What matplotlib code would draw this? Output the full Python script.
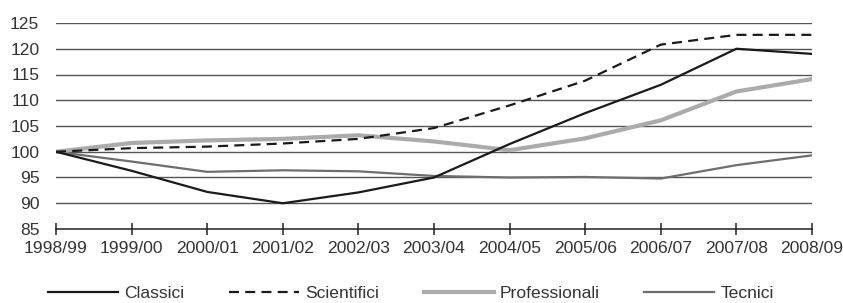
import matplotlib
matplotlib.use("Agg")
import matplotlib.pyplot as plt
from matplotlib import font_manager

# school-year labels on the x axis
years = ["1998/99", "1999/00", "2000/01", "2001/02", "2002/03", "2003/04",
         "2004/05", "2005/06", "2006/07", "2007/08", "2008/09"]

# index values, 1998/99 = 100
classici = [100, 96.3, 92.2, 90.0, 92.1, 95.0, 101.5, 107.5, 113.0, 120.0, 119.0]
scientifici = [100, 100.7, 101.0, 101.6, 102.5, 104.6, 109.0, 113.8, 120.8, 122.7, 122.7]
professionali = [100, 101.7, 102.2, 102.5, 103.2, 102.0, 100.3, 102.6, 106.1, 111.7, 114.1]
tecnici = [100, 98.1, 96.1, 96.4, 96.2, 95.3, 95.0, 95.1, 94.8, 97.4, 99.3]

yticks = [85, 90, 95, 100, 105, 110, 115, 120, 125]

names = {f.name for f in font_manager.fontManager.ttflist}
NARROW = "Liberation Sans Narrow" in names
FONT = "Liberation Sans Narrow" if NARROW else "Liberation Sans"
plt.rcParams["font.family"] = [FONT, "DejaVu Sans"]
FS = 14.5 if NARROW else 12.6
TXT = "#333333"

fig = plt.figure(figsize=(8.43, 3.03), dpi=100)
ax = fig.add_axes([56 / 843, 74 / 303, 756 / 843, 206 / 303])

x = list(range(len(years)))

# horizontal grid (no grid at 85, that's the axis)
for v in yticks[1:]:
    ax.axhline(v, color="#555555", linewidth=1.0, zorder=1)

ax.plot(x, tecnici, color="#6e6e6e", linewidth=1.6, zorder=3, label="Tecnici")
ax.plot(x, professionali, color="#ababab", linewidth=3.0, zorder=3,
        label="Professionali")
ax.plot(x, scientifici, color="#1a1a1a", linewidth=1.6, dashes=(4.5, 2.8),
        zorder=4, label="Scientifici")
ax.plot(x, classici, color="#1a1a1a", linewidth=1.6, zorder=5, label="Classici")

ax.set_xlim(0, len(years) - 1)
ax.set_ylim(85, 125)
ax.set_yticks(yticks)
ax.set_xticks(x)
ax.set_xticklabels(years)

for s in ["top", "right", "left"]:
    ax.spines[s].set_visible(False)
ax.spines["bottom"].set_color("#222222")
ax.spines["bottom"].set_linewidth(1.1)
ax.tick_params(axis="y", length=0, pad=12, labelsize=FS, labelcolor=TXT)
ax.tick_params(axis="x", direction="inout", length=9, width=1.1,
               color="#222222", pad=4, labelsize=FS, labelcolor=TXT)

# legend order as in the source
h, l = ax.get_legend_handles_labels()
order = ["Classici", "Scientifici", "Professionali", "Tecnici"]
hh = [h[l.index(n)] for n in order]
fig.legend(hh, order, loc="center", bbox_to_anchor=(411 / 843, 1 - 293 / 303),
           ncol=4, frameon=False, fontsize=FS, handlelength=70 / (FS * 1.39),
           handletextpad=0.35, columnspacing=2.55, labelcolor=TXT)

fig.savefig("out.png", dpi=100, facecolor="white")
